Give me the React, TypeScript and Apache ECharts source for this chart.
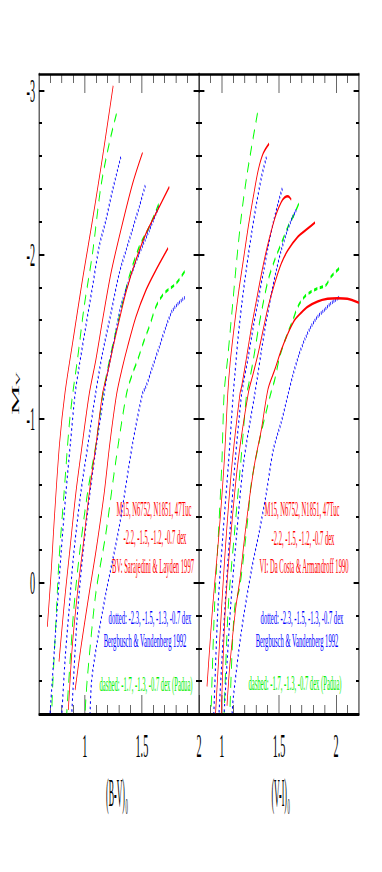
import React, { useEffect, useRef } from 'react';
import * as echarts from 'echarts';

// The original figure is horizontally squashed; the chart is drawn wide and compressed with CSS.
const K = 0.3;
const CW = 1274;
const CH = 872;
const FONT = 'Liberation Serif, Times New Roman, serif';

// ---------- data: (B-V)0 panel ----------
const BV_RED_1 = [[1.249,-3.028],[1.156,-2.594],[1.068,-2.209],[0.98,-1.844],[0.898,-1.479],[0.828,-1.16],[0.78,-0.85],[0.735,-0.4],[0.705,-0.05],[0.673,0.268]];
const BV_RED_2 = [[1.506,-2.621],[1.419,-2.432],[1.316,-2.148],[1.229,-1.884],[1.156,-1.6],[1.097,-1.357],[1.04,-1.152],[0.97,-0.8],[0.922,-0.544],[0.87,-0.2],[0.825,0.1],[0.775,0.481]];
const BV_RED_3 = [[1.74,-2.412],[1.623,-2.25],[1.536,-2.128],[1.448,-1.966],[1.366,-1.783],[1.302,-1.6],[1.249,-1.438],[1.199,-1.276],[1.156,-1.152],[1.1,-0.85],[1.039,-0.544],[0.99,-0.25],[0.936,0.065],[0.89,0.4],[0.857,0.775]];
const BV_RED_4 = [[1.729,-2.039],[1.623,-1.905],[1.536,-1.783],[1.448,-1.62],[1.375,-1.438],[1.331,-1.316],[1.28,-1.152],[1.22,-0.85],[1.17,-0.544],[1.1,-0.2],[1.039,0.065],[0.97,0.38],[0.916,0.653]];
const BV_BLUE_1 = [[1.316,-2.594],[1.243,-2.391],[1.185,-2.209],[1.126,-2.047],[1.068,-1.803],[1.009,-1.56],[0.951,-1.316],[0.916,-1.152],[0.875,-0.85],[0.835,-0.544],[0.79,-0.15],[0.745,0.3],[0.697,0.795]];
const BV_BLUE_2 = [[1.53,-2.42],[1.477,-2.29],[1.389,-2.087],[1.302,-1.884],[1.229,-1.64],[1.156,-1.4],[1.095,-1.152],[1.03,-0.85],[0.965,-0.544],[0.9,-0.15],[0.863,0.166],[0.83,0.45],[0.8,0.795]];
const BV_BLUE_3 = [[1.647,-2.29],[1.565,-2.148],[1.477,-2.006],[1.389,-1.844],[1.316,-1.682],[1.258,-1.479],[1.199,-1.276],[1.17,-1.152],[1.105,-0.85],[1.045,-0.544],[0.98,-0.15],[0.93,0.25],[0.887,0.795]];
const BV_BLUE_4 = [[1.875,-1.738],[1.77,-1.661],[1.711,-1.56],[1.653,-1.438],[1.594,-1.316],[1.536,-1.195],[1.506,-1.152],[1.419,-0.848],[1.302,-0.341],[1.185,0.065],[1.1,0.4],[1.06,0.6],[1.047,0.795]];
const BV_GREEN_1 = [[1.278,-2.858],[1.214,-2.675],[1.141,-2.412],[1.068,-2.006],[0.995,-1.682],[0.936,-1.357],[0.895,-1.152],[0.863,-0.949],[0.819,-0.544],[0.775,-0.138],[0.746,0.268],[0.717,0.673],[0.712,0.795]];
const BV_GREEN_2 = [[1.647,-2.306],[1.565,-2.168],[1.477,-2.047],[1.389,-1.864],[1.302,-1.62],[1.229,-1.397],[1.16,-1.152],[1.1,-0.85],[1.024,-0.544],[0.95,-0.15],[0.9,0.2],[0.843,0.795]];
const BV_GREEN_3 = [[1.875,-1.897],[1.799,-1.823],[1.726,-1.783],[1.682,-1.753],[1.623,-1.682],[1.565,-1.56],[1.521,-1.479],[1.463,-1.357],[1.419,-1.276],[1.366,-1.152],[1.273,-0.746],[1.185,-0.3],[1.097,0.065],[1.024,0.572],[1.003,0.795]];

// ---------- data: (V-I)0 panel ----------
const VI_RED_1 = [[1.413,-2.675],[1.361,-2.615],[1.318,-2.513],[1.275,-2.351],[1.231,-2.168],[1.188,-1.966],[1.145,-1.763],[1.101,-1.519],[1.072,-1.337],[1.052,-1.154],[1.02,-0.73],[0.975,-0.3],[0.918,0.162],[0.87,0.633]];
const VI_RED_2 = [[1.607,-2.335],[1.578,-2.355],[1.549,-2.347],[1.52,-2.32],[1.477,-2.249],[1.434,-2.148],[1.39,-2.026],[1.347,-1.884],[1.303,-1.722],[1.26,-1.56],[1.217,-1.377],[1.173,-1.195],[1.159,-1.154],[1.09,-0.73],[1.04,-0.3],[0.997,0.162],[0.945,0.795]];
const VI_RED_3 = [[1.815,-2.195],[1.751,-2.158],[1.665,-2.108],[1.578,-2.026],[1.52,-1.945],[1.462,-1.824],[1.405,-1.682],[1.361,-1.54],[1.318,-1.398],[1.275,-1.276],[1.231,-1.154],[1.14,-0.73],[1.08,-0.3],[1.03,0.162],[0.995,0.795]];
const VI_RED_4 = [[2.199,-1.706],[2.098,-1.73],[2.012,-1.734],[1.925,-1.73],[1.838,-1.714],[1.751,-1.682],[1.694,-1.645],[1.636,-1.6],[1.578,-1.519],[1.52,-1.418],[1.462,-1.296],[1.404,-1.18],[1.346,-0.935],[1.288,-0.731],[1.244,-0.527],[1.2,-0.282],[1.157,-0.016],[1.119,0.167],[1.07,0.5],[1.045,0.75]];
const VI_BLUE_1 = [[1.39,-2.594],[1.347,-2.473],[1.303,-2.31],[1.26,-2.128],[1.217,-1.925],[1.175,-1.702],[1.14,-1.479],[1.115,-1.276],[1.1,-1.154],[1.058,-0.73],[1.01,-0.3],[0.965,0.162],[0.93,0.795]];
const VI_BLUE_2 = [[1.529,-2.402],[1.491,-2.31],[1.448,-2.189],[1.405,-2.047],[1.361,-1.884],[1.318,-1.722],[1.275,-1.56],[1.231,-1.377],[1.188,-1.215],[1.173,-1.154],[1.115,-0.73],[1.07,-0.3],[1.026,0.162],[0.975,0.795]];
const VI_BLUE_3 = [[1.65,-2.27],[1.607,-2.209],[1.564,-2.128],[1.52,-2.026],[1.477,-1.905],[1.434,-1.763],[1.39,-1.6],[1.347,-1.418],[1.312,-1.256],[1.289,-1.154],[1.19,-0.73],[1.13,-0.3],[1.075,0.162],[1.02,0.795]];
const VI_BLUE_4 = [[2.026,-1.738],[1.954,-1.702],[1.896,-1.661],[1.838,-1.621],[1.78,-1.56],[1.73,-1.49],[1.67,-1.38],[1.62,-1.26],[1.58,-1.15],[1.52,-0.98],[1.45,-0.81],[1.39,-0.55],[1.33,-0.32],[1.26,-0.08],[1.17,0.3],[1.1,0.7],[1.09,0.795]];
const VI_GREEN_1 = [[1.312,-2.862],[1.26,-2.655],[1.217,-2.473],[1.173,-2.249],[1.13,-1.966],[1.087,-1.641],[1.052,-1.377],[1.02,-1.154],[1.0,-0.73],[0.97,-0.3],[0.935,0.162],[0.905,0.795]];
const VI_GREEN_2 = [[1.673,-2.31],[1.636,-2.249],[1.578,-2.168],[1.52,-2.067],[1.462,-1.966],[1.405,-1.844],[1.361,-1.702],[1.318,-1.54],[1.275,-1.357],[1.231,-1.195],[1.217,-1.154],[1.165,-0.73],[1.11,-0.3],[1.055,0.162],[1.02,0.795]];
const VI_GREEN_3 = [[2.026,-1.915],[1.954,-1.864],[1.91,-1.813],[1.838,-1.793],[1.78,-1.773],[1.723,-1.742],[1.665,-1.682],[1.621,-1.6],[1.564,-1.499],[1.506,-1.377],[1.462,-1.235],[1.428,-1.154],[1.331,-0.873],[1.258,-0.608],[1.229,-0.404],[1.157,0.024],[1.113,0.147],[1.085,0.5],[1.07,0.795]];

// ---------- axes ----------
const BV_RANGE = [0.6, 2.0];
const VI_RANGE = [0.8, 2.2];
const Y_RANGE = [-3.1, 0.8];
const BV_X_MINOR = [0.7, 0.8, 0.9, 1.1, 1.2, 1.3, 1.4, 1.6, 1.7, 1.8, 1.9];
const VI_X_MINOR = [0.9, 1.1, 1.2, 1.3, 1.4, 1.6, 1.7, 1.8, 1.9, 2.1];
const X_MAJOR = [1, 1.5, 2];
const X_LABELS = [1, 1.5, 2];
const Y_MINOR = [-3, -2.8, -2.6, -2.4, -2.2, -2, -1.8, -1.6, -1.4, -1.2, -1, -0.8, -0.6, -0.4, -0.2, 0, 0.2, 0.4, 0.6];
const Y_MAJOR = [-3, -2, -1, 0];
const Y_LABELS = [-3, -2, -1, 0];

// ---------- texts ----------
const BV_TEXTS = [
  { t: 'M15, N6752, N1851, 47Tuc', c: '#ff0000', x: 154, y: 509, s: 22 },
  { t: '-2.2, -1.5, -1.2, -0.7 dex', c: '#ff0000', x: 155, y: 537, s: 22 },
  { t: 'BV: Sarajedini & Layden 1997', c: '#ff0000', x: 153, y: 566, s: 22 },
  { t: 'dotted: -2.3, -1.5, -1.3, -0.7 dex', c: '#0000ff', x: 150, y: 618, s: 18 },
  { t: 'Bergbusch & Vandenberg 1992', c: '#0000ff', x: 145, y: 641, s: 18 },
  { t: 'dashed: -1.7, -1.3, -0.7 dex (Padua)', c: '#00ee00', x: 146, y: 684, s: 22 },
];
const VI_TEXTS = [
  { t: 'M15, N6752, N1851, 47Tuc', c: '#ff0000', x: 302, y: 509, s: 22 },
  { t: '-2.2, -1.5, -1.2, -0.7 dex', c: '#ff0000', x: 303, y: 538, s: 22 },
  { t: 'VI: Da Costa & Armandroff 1990', c: '#ff0000', x: 304, y: 566, s: 22 },
  { t: 'dotted: -2.3, -1.5, -1.3, -0.7 dex', c: '#0000ff', x: 302, y: 618, s: 18 },
  { t: 'Bergbusch & Vandenberg 1992', c: '#0000ff', x: 297, y: 641, s: 18 },
  { t: 'dashed: -1.7, -1.3, -0.7 dex (Padua)', c: '#00ee00', x: 295, y: 683, s: 22 },
];

const GRID_TOP = 74;
const GRID_H = 640;
const GRID_L = [39 / K, 199 / K];
const GRID_W = 160 / K;

function xAxesFor(gi: number, range: number[], minor: number[]) {
  const base: any = {
    type: 'value', gridIndex: gi, min: range[0], max: range[1],
    splitLine: { show: false }, axisLabel: { show: false }, axisTick: { show: false },
    axisLine: { show: false, onZero: false }, axisPointer: { show: false },
  };
  const tick = (vals: number[], len: number) => ({
    show: true, inside: true, length: len, customValues: vals,
    lineStyle: { color: '#000', width: 2 },
  });
  return [
    {
      ...base, position: 'bottom',
      axisLine: { show: true, onZero: false, lineStyle: { color: '#000', width: 3 } },
      axisTick: tick(minor, 9),
      axisLabel: {
        show: true, customValues: X_LABELS, margin: 14, fontSize: 34, fontFamily: FONT, color: '#000',
        formatter: (v: number) => String(v),
      },
    },
    { ...base, position: 'bottom', axisTick: tick(X_MAJOR, 19) },
    {
      ...base, position: 'top',
      axisLine: { show: true, onZero: false, lineStyle: { color: '#000', width: 2.5 } },
      axisTick: tick(minor, 9),
    },
    { ...base, position: 'top', axisTick: tick(X_MAJOR, 19) },
  ];
}

function yAxesFor(gi: number) {
  const base: any = {
    type: 'value', gridIndex: gi, min: Y_RANGE[0], max: Y_RANGE[1], inverse: true,
    splitLine: { show: false }, axisLabel: { show: false }, axisTick: { show: false },
    axisLine: { show: false, onZero: false }, axisPointer: { show: false },
  };
  const tick = (vals: number[], len: number) => ({
    show: true, inside: true, length: len, customValues: vals,
    lineStyle: { color: '#000', width: 2 },
  });
  const leftLine = gi === 0;
  return [
    {
      ...base, position: 'left',
      axisLine: { show: leftLine, onZero: false, lineStyle: { color: '#000', width: 3 } },
      axisTick: tick(Y_MINOR, 10),
      axisLabel: gi === 0
        ? { show: true, customValues: Y_LABELS, margin: 13, fontSize: 34, fontFamily: FONT, color: '#000', formatter: (v: number) => String(v) }
        : { show: false },
    },
    { ...base, position: 'left', axisTick: tick(Y_MAJOR, 18) },
    {
      ...base, position: 'right',
      axisLine: { show: true, onZero: false, lineStyle: { color: '#000', width: 3 } },
      axisTick: tick(Y_MINOR, 10),
    },
    { ...base, position: 'right', axisTick: tick(Y_MAJOR, 18) },
  ];
}

function curve(data: number[][], color: string, kind: string, gi: number) {
  const type = kind === 'solid' ? 'solid' : kind === 'dotted' ? [2.5, 3] : [11, 8];
  const width = kind === 'solid' ? 2.5 : kind === 'dotted' ? 3.5 : 3;
  return {
    type: 'line', xAxisIndex: gi * 4, yAxisIndex: gi * 4, data,
    showSymbol: false, symbol: 'none', smooth: 0.3, silent: true, clip: true,
    lineStyle: { color, width, type, cap: 'butt' },
  };
}

function textEls(list: any[]) {
  return list.map((d) => ({
    type: 'text', x: d.x / K, y: d.y, scaleX: 22 / d.s, silent: true,
    style: { text: d.t, fill: d.c, fontSize: d.s, fontFamily: FONT, align: 'center', verticalAlign: 'middle' },
  }));
}

function titleEl(main: string, sub: string, cx: number) {
  return {
    type: 'group', x: cx / K, y: 792, scaleX: 0.66, silent: true,
    children: [
      { type: 'text', x: 0, y: 0, style: { text: main, fill: '#000', fontSize: 40, fontFamily: FONT, align: 'right', verticalAlign: 'middle' } },
      { type: 'text', x: 2, y: 14, style: { text: sub, fill: '#000', fontSize: 24, fontFamily: FONT, align: 'left', verticalAlign: 'middle' } },
    ],
  };
}

export default function App() {
  const ref = useRef<HTMLDivElement>(null);
  useEffect(() => {
    if (!ref.current) return;
    const chart = echarts.init(ref.current, undefined, { renderer: 'svg' });
    const option: any = {
      animation: false,
      backgroundColor: '#ffffff',
      grid: [
        { left: GRID_L[0], top: GRID_TOP, width: GRID_W, height: GRID_H },
        { left: GRID_L[1], top: GRID_TOP, width: GRID_W, height: GRID_H },
      ],
      xAxis: [...xAxesFor(0, BV_RANGE, BV_X_MINOR), ...xAxesFor(1, VI_RANGE, VI_X_MINOR)],
      yAxis: [...yAxesFor(0), ...yAxesFor(1)],
      series: [
        curve(BV_GREEN_1, '#00ff00', 'dashed', 0),
        curve(BV_GREEN_2, '#00ff00', 'dashed', 0),
        curve(BV_GREEN_3, '#00ff00', 'dashed', 0),
        curve(BV_BLUE_1, '#0000ff', 'dotted', 0),
        curve(BV_BLUE_2, '#0000ff', 'dotted', 0),
        curve(BV_BLUE_3, '#0000ff', 'dotted', 0),
        curve(BV_BLUE_4, '#0000ff', 'dotted', 0),
        curve(BV_RED_1, '#ff0000', 'solid', 0),
        curve(BV_RED_2, '#ff0000', 'solid', 0),
        curve(BV_RED_3, '#ff0000', 'solid', 0),
        curve(BV_RED_4, '#ff0000', 'solid', 0),
        curve(VI_GREEN_1, '#00ff00', 'dashed', 1),
        curve(VI_GREEN_2, '#00ff00', 'dashed', 1),
        curve(VI_GREEN_3, '#00ff00', 'dashed', 1),
        curve(VI_BLUE_1, '#0000ff', 'dotted', 1),
        curve(VI_BLUE_2, '#0000ff', 'dotted', 1),
        curve(VI_BLUE_3, '#0000ff', 'dotted', 1),
        curve(VI_BLUE_4, '#0000ff', 'dotted', 1),
        curve(VI_RED_1, '#ff0000', 'solid', 1),
        curve(VI_RED_2, '#ff0000', 'solid', 1),
        curve(VI_RED_3, '#ff0000', 'solid', 1),
        curve(VI_RED_4, '#ff0000', 'solid', 1),
      ],
      graphic: [
        ...textEls(BV_TEXTS),
        ...textEls(VI_TEXTS),
        titleEl('(B-V)', '0', 125),
        titleEl('(V-I)', '0', 287),
        {
          type: 'group', x: 16 / K, y: 400, rotation: Math.PI / 2, silent: true,
          children: [
            { type: 'text', x: 0, y: 0, style: { text: 'M', fill: '#000', fontSize: 34, fontFamily: FONT, align: 'center', verticalAlign: 'middle' } },
            { type: 'text', x: 21, y: 5, style: { text: 'V', fill: '#000', fontSize: 20, fontFamily: FONT, align: 'center', verticalAlign: 'middle' } },
          ],
        },
      ],
    };
    chart.setOption(option);
    return () => chart.dispose();
  }, []);
  return (
    <div style={{ position: 'absolute', left: 0, top: 0, width: 382, height: CH, overflow: 'hidden', background: '#fff' }}>
      <div ref={ref} style={{ width: CW, height: CH, transform: `scaleX(${K})`, transformOrigin: '0 0' }} />
    </div>
  );
}
